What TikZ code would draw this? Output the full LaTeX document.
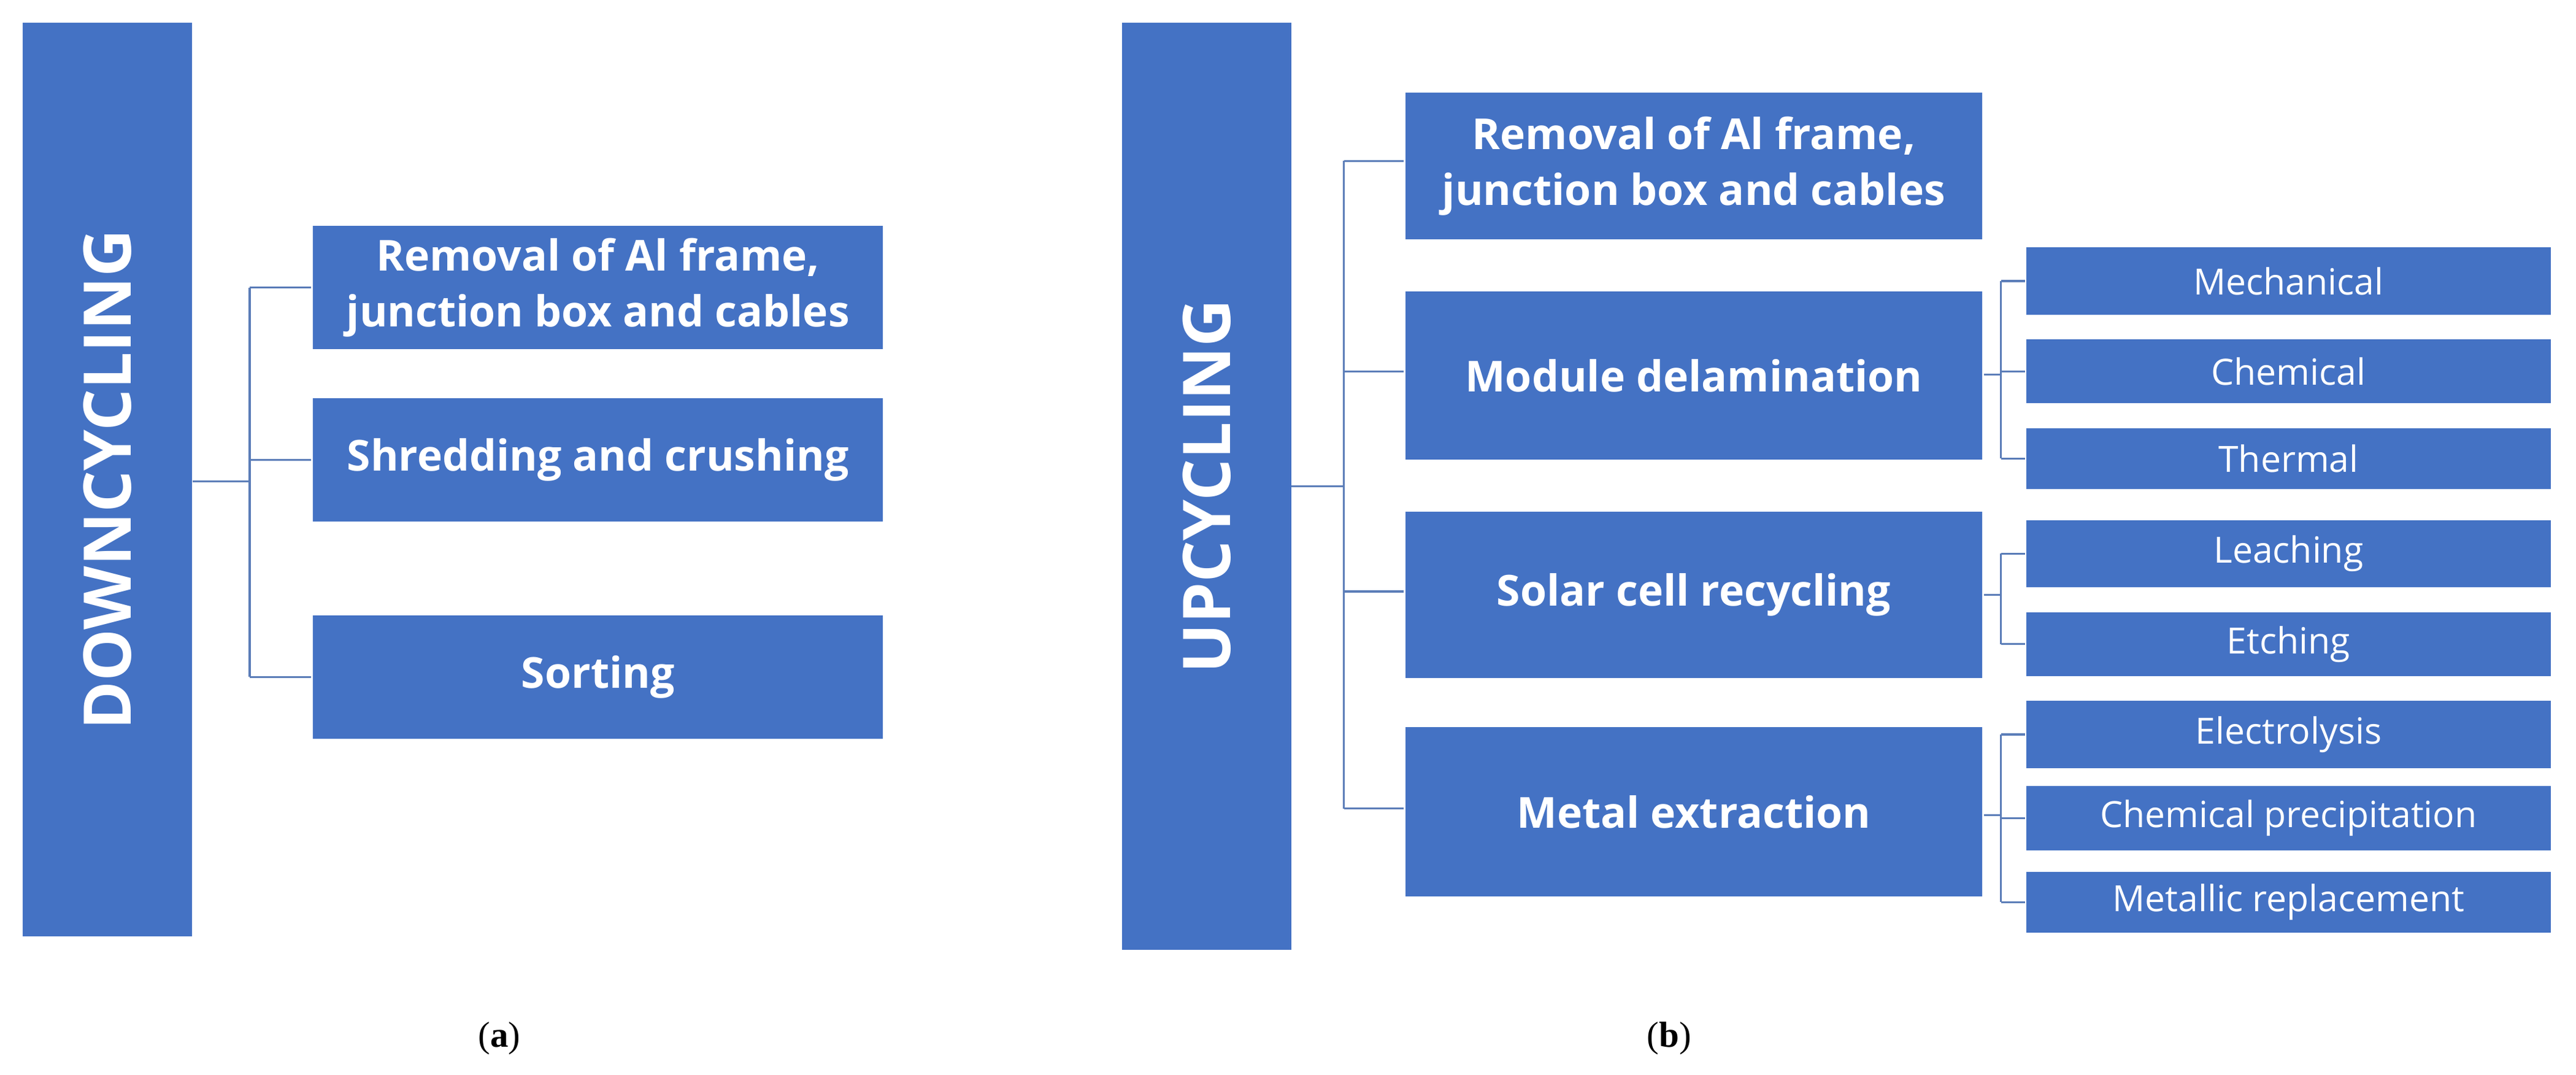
\documentclass[tikz,border=0pt]{standalone}
\usepackage{fontspec}
\setmainfont{Open Sans}
\newfontfamily\serifb{Liberation Serif}
\definecolor{bx}{HTML}{4472C4}
\definecolor{ln}{HTML}{5B7DB8}
\begin{document}
\begin{tikzpicture}[x=1pt,y=-1pt,
 box/.style={fill=bx,draw=white,line width=1pt,text=white,font=\bfseries\fontsize{26}{34}\selectfont,align=center,inner sep=0pt},
 sub/.style={fill=bx,draw=white,line width=1pt,text=white,font=\fontsize{22}{26}\selectfont,align=center,inner sep=0pt},
 bar/.style={fill=bx,text=white,font=\bfseries\fontsize{40}{46}\selectfont,inner sep=0pt},
 con/.style={draw=ln,line width=1.2pt}]
\useasboundingbox (0,0) rectangle (1568,654);
% (a)
\node[bar,minimum width=103pt,minimum height=556pt] (A) at (65.5,292) {};
\node[text=white,font=\bfseries\fontsize{40}{46}\selectfont,rotate=90] at (A) {DOWNCYCLING};
\node[box,minimum width=348pt,minimum height=76pt] (a1) at (364,175) {Removal of Al frame,\\junction box and cables};
\node[box,minimum width=348pt,minimum height=76pt] (a2) at (364,280) {Shredding and crushing};
\node[box,minimum width=348pt,minimum height=76pt] (a3) at (364,412) {Sorting};
\coordinate (ja) at (152,293);
\draw[con] (A.east |- ja) -- (ja);
\draw[con] (152,175) -- (152,412);
\draw[con] (152,175) -- (a1.west);
\draw[con] (152,280) -- (a2.west);
\draw[con] (152,412) -- (a3.west);
\node[font=\serifb\fontsize{22}{26}\selectfont] (la) at (304,632) {(\textbf{a})};
% (b)
\node[bar,minimum width=103pt,minimum height=564pt] (B) at (734.5,296) {};
\node[text=white,font=\bfseries\fontsize{40}{46}\selectfont,rotate=90] at (B) {UPCYCLING};
\node[box,minimum width=352pt,minimum height=90pt] (b1) at (1031,101) {Removal of Al frame,\\junction box and cables};
\node[box,minimum width=352pt,minimum height=103pt] (b2) at (1031,228.5) {Module delamination};
\node[box,minimum width=352pt,minimum height=102pt] (b3) at (1031,362) {Solar cell recycling};
\node[box,minimum width=352pt,minimum height=104pt] (b4) at (1031,494) {Metal extraction};
\draw[con] (B.east |- 0,296) -- (818,296);
\draw[con] (818,98) -- (818,492);
\foreach \n/\y in {b1/98,b2/226,b3/360,b4/492}{\draw[con] (818,\y) -- (\n.west |- 0,\y);}
\foreach \n/\t/\a/\b in {s1/Mechanical/150/192,s2/Chemical/206/246,s3/Thermal/260/298,s4/Leaching/316/358,s5/Etching/372/412,s6/Electrolysis/426/468,s7/Chemical precipitation/478/518,s8/Metallic replacement/530/568}{
 \node[sub,minimum width=320pt,minimum height={\b-\a}] (\n) at (1393,{(\a+\b)/2}) {\t};}
\draw[con] (b2.east |- 0,228) -- (1218,228);
\draw[con] (1218,171) -- (1218,279);
\foreach \n in {s1,s2,s3}{\draw[con] (1218,0 |- \n.west) -- (\n.west);}
\draw[con] (b3.east |- 0,362) -- (1218,362);
\draw[con] (1218,337) -- (1218,392);
\foreach \n in {s4,s5}{\draw[con] (1218,0 |- \n.west) -- (\n.west);}
\draw[con] (b4.east |- 0,496) -- (1218,496);
\draw[con] (1218,447) -- (1218,549);
\foreach \n in {s6,s7,s8}{\draw[con] (1218,0 |- \n.west) -- (\n.west);}
\node[font=\serifb\fontsize{22}{26}\selectfont] (lb) at (1016,632) {(\textbf{b})};
\end{tikzpicture}
\end{document}
